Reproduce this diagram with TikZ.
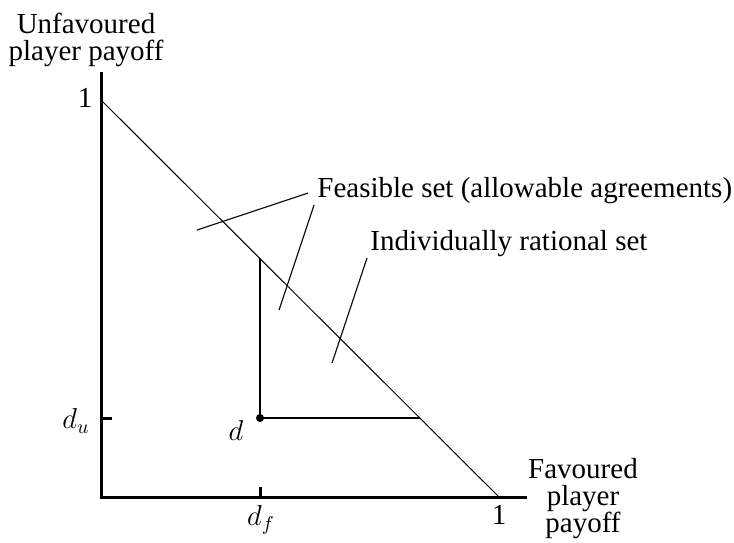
\documentclass[tikz,border=0pt]{standalone}
\usepackage{fontspec}
\setmainfont{Liberation Serif}
\begin{document}
\begin{tikzpicture}[x=0.5pt, y=-0.5pt,
  every node/.style={font=\fontsize{14.5}{13.5}\selectfont, inner sep=0pt},
  axis/.style={line width=1.5pt, black},
  bound/.style={line width=1.35pt, black},
  frontier/.style={line width=0.5pt, black},
  leader/.style={line width=0.55pt, black}]
  \useasboundingbox (0,0) rectangle (734,542);
  % Points
  \coordinate (O) at (101,497);
  \coordinate (ytop) at (101,72);
  \coordinate (xend) at (527,497);
  \coordinate (u1) at (101,100);
  \coordinate (f1) at (499,497);
  \coordinate (d) at (260,418);
  \coordinate (dup) at (260,258);
  \coordinate (dright) at (420,418);
  \coordinate (utick) at (112,418);
  \coordinate (uaxis) at (101,418);
  \coordinate (ftick) at (260,487);
  \coordinate (faxis) at (260,497);
  % Axes
  \draw[axis] (ytop) -- (O) -- (xend);
  \draw[axis] (uaxis) -- (utick);
  \draw[axis] (faxis) -- (ftick);
  \draw[frontier] (u1) -- (f1);
  \draw[bound] (dup) -- (d) -- (dright);
  \fill (d) circle (4);
  % Labels
  \node[align=center] (ylab) at (86,40) {Unfavoured\\player payoff};
  \node[align=center] (xlab) at (583,499) {Favoured\\player\\payoff};
  \node (one y) at (85,98) {1};
  \node (one x) at (499,515) {1};
  \node (du) at (76,421) {$d_u$};
  \node (df) at (261,520) {$d_f$};
  \node (dlab) at (236,430) {$d$};
  \node[anchor=base west] (feas) at (317,197) {Feasible set (allowable agreements)};
  \node[anchor=base west] (irat) at (370,250) {Individually rational set};
  % Leaders
  \coordinate (fa) at (197,230);
  \coordinate (fb) at (308,193);
  \coordinate (fc) at (314,205);
  \coordinate (fd) at (279,310);
  \coordinate (ia) at (367,258);
  \coordinate (ib) at (332,363);
  \draw[leader] (fa) -- (fb);
  \draw[leader] (fc) -- (fd);
  \draw[leader] (ia) -- (ib);
\end{tikzpicture}
\end{document}
